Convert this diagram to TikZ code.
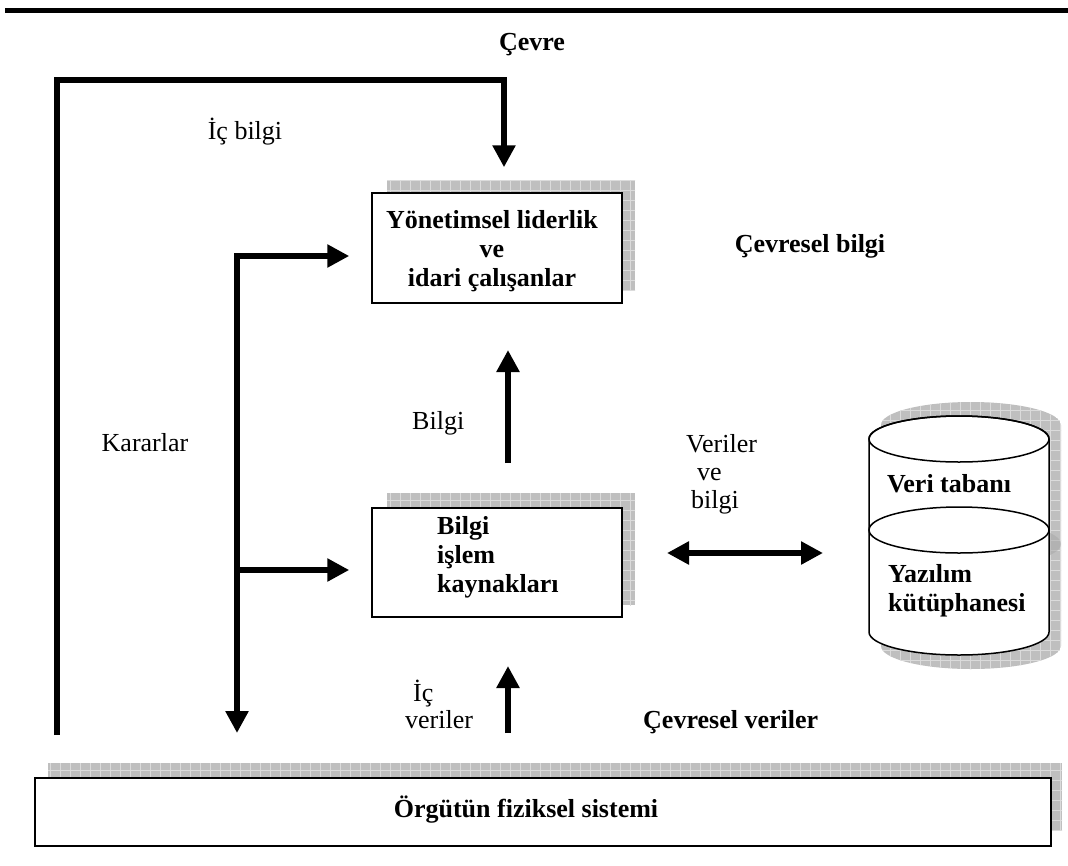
\documentclass[tikz,border=0pt]{standalone}
\usepackage{fontspec}
\setmainfont{Liberation Serif}
\usetikzlibrary{arrows.meta}
\newcommand\gridfill[1]{%
  \begin{scope}
    \clip #1;
    \fill[gray!50] #1;
    \foreach \gx in {0,10,...,1070} {\draw[gray!28, line width=0.8pt] (\gx,0) -- (\gx,865);}
    \foreach \gy in {0,10,...,870} {\draw[gray!28, line width=0.8pt] (0,\gy) -- (1068,\gy);}
  \end{scope}}
\begin{document}
\begin{tikzpicture}[x=1pt,y=-1pt,
  arr/.style={line width=6pt, -{Triangle[length=22pt,width=22pt]}},
  darr/.style={line width=6pt, {Triangle[length=22pt,width=22pt]}-{Triangle[length=22pt,width=22pt]}},
  boxst/.style={draw, line width=1.5pt, fill=white, inner sep=0pt},
  lbl/.style={font=\fontsize{26}{29}\selectfont, inner sep=0pt},
  blbl/.style={font=\fontsize{26}{29}\selectfont\bfseries, inner sep=0pt}
]
\useasboundingbox (0,0) rectangle (1068,865);

% top rule
\fill (5,8) rectangle (1068,13);

% shadows
\gridfill{(387,180) rectangle (635,290)}
\gridfill{(387,493) rectangle (635,605)}
\gridfill{(48,763) rectangle (1062,830)}
\gridfill{(881,425) -- (881,646) arc[start angle=180,end angle=0,x radius=90,y radius=23] -- (1061,425) arc[start angle=360,end angle=180,x radius=90,y radius=23] -- cycle}
\fill[gray!70, opacity=0.5] (971,544) ellipse [x radius=90, y radius=23];

% boxes
\node[boxst, minimum width=250pt, minimum height=110pt] (mgmt) at (497,248) {};
\node[blbl, align=center] (mgmtt) at (492,251) {Yönetimsel liderlik\\ve\\idari çalışanlar};
\node[boxst, minimum width=250pt, minimum height=109pt] (proc) at (497,562.5) {};
\node[blbl, align=left, anchor=north west] (proct) at (437,516) {Bilgi\\işlem\\kaynakları};
\node[boxst, minimum width=1016pt, minimum height=68pt] (phys) at (543,812) {};
\node[blbl] (physt) at (526,810) {Örgütün fiziksel sistemi};

% cylinder
\draw[line width=1.5pt, fill=white] (869,439) -- (869,632) arc[start angle=180,end angle=0,x radius=90,y radius=23] -- (1049,439) arc[start angle=360,end angle=180,x radius=90,y radius=23] -- cycle;
\draw[line width=1.5pt] (959,439) ellipse [x radius=90, y radius=23];
\draw[line width=1.5pt, fill=white] (959,530) ellipse [x radius=90, y radius=23];
\node[minimum width=180pt, minimum height=240pt, inner sep=0pt] (db) at (959,535) {};
\node[blbl, anchor=base] (dbt) at (949,492) {Veri tabanı};
\node[blbl, align=left, anchor=north west] (libt) at (888,564) {Yazılım\\kütüphanesi};

% labels
\node[blbl, anchor=base] (cevre) at (532,50) {Çevre};
\node[lbl, anchor=base] (icbilgi) at (245,139) {İç bilgi};
\node[blbl, anchor=base] (cbilgi) at (810,252) {Çevresel bilgi};
\node[lbl, anchor=base] (kararlar) at (145,451) {Kararlar};
\node[lbl, anchor=base west] (bilgi) at (412,429) {Bilgi};
\node[lbl, anchor=base west] (v1) at (686,452) {Veriler};
\node[lbl, anchor=base west] (v2) at (697,480) {ve};
\node[lbl, anchor=base west] (v3) at (691,508) {bilgi};
\node[lbl, anchor=base west] (ic1) at (413,701) {İç};
\node[lbl, anchor=base west] (ic2) at (405,728) {veriler};
\node[blbl, anchor=base west] (cveriler) at (643,728) {Çevresel veriler};

% connectors
\coordinate (fstart) at (57,735);
\coordinate (fc1) at (57,80);
\coordinate (fc2) at (504,80);
\draw[arr] (fstart) -- (fc1) -- (fc2) -- (fc2 |- mgmt.north) [shorten >=25pt];
\coordinate (ktop) at (237,256);
\coordinate (kbot) at (237,733);
\coordinate (kmid) at (237,570);
\draw[arr] (237,253) -- (kbot);
\draw[arr] (234,256) -- (mgmt.west |- ktop) [shorten >=22pt];
\draw[arr] (kmid) -- (proc.west |- kmid) [shorten >=22pt];
\coordinate (bup) at (508,463);
\draw[arr] (bup) -- (508,350);
\coordinate (iup) at (508,733);
\draw[arr] (iup) -- (508,666);
\coordinate (dl) at (667,553);
\coordinate (dr) at (823,553);
\draw[darr] (dl) -- (dr);
\end{tikzpicture}
\end{document}
